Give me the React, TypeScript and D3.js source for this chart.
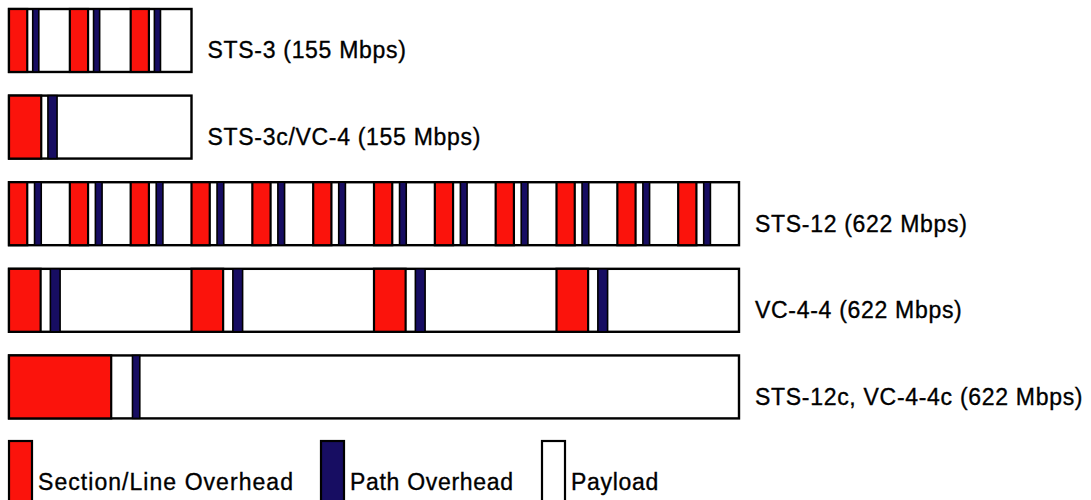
import * as d3 from "d3";

// Frame layouts, measured in STS-1 widths
const rowLabels = [
  "STS-3 (155 Mbps)",
  "STS-3c/VC-4 (155 Mbps)",
  "STS-12 (622 Mbps)",
  "VC-4-4 (622 Mbps)",
  "STS-12c, VC-4-4c (622 Mbps)",
];
const rowUnits = [3, 3, 12, 12, 12];
const rowFrames = [3, 1, 12, 4, 1];
const sectionOH = [0.3, 0.53, 0.3, 0.52, 1.68];
const pathOHStart = [0.39, 0.64, 0.42, 0.68, 2.03];
const pathOHWidth = [0.1, 0.15, 0.11, 0.16, 0.12];

const legendLabels = ["Section/Line Overhead", "Path Overhead", "Payload"];

const RED = "#fb130c";
const NAVY = "#170d62";
const FONT = "'Liberation Sans', Arial, Helvetica, sans-serif";

export default function App() {
  const width = 1091;
  const height = 500;

  const x = d3.scaleLinear().domain([0, 12]).range([9, 739]);
  const y = d3
    .scaleBand<string>()
    .domain(rowLabels)
    .range([9, 418.4])
    .paddingInner(0.273)
    .paddingOuter(0);

  const legendX = [9, 321, 542];
  const legendFill = [RED, NAVY, "#ffffff"];
  const legendSpacing = [1.05, 0.7, 0.7];

  return (
    <svg
      width={width}
      height={height}
      style={{ position: "absolute", left: 0, top: 0, background: "#fff" }}
    >
      {rowLabels.map((label, i) => {
        const top = y(label) || 0;
        const bh = y.bandwidth();
        const frameW = rowUnits[i] / rowFrames[i];
        const frames = d3.range(rowFrames[i]);
        return (
          <g key={label}>
            <rect
              x={x(0)}
              y={top}
              width={x(rowUnits[i]) - x(0)}
              height={bh}
              fill="#fff"
              stroke="#000"
              strokeWidth={2.4}
            />
            {frames.map((f) => {
              const s = f * frameW;
              return (
                <g key={f}>
                  <rect
                    x={x(s)}
                    y={top}
                    width={x(s + sectionOH[i]) - x(s)}
                    height={bh}
                    fill={RED}
                    stroke="#000"
                    strokeWidth={2.2}
                  />
                  <rect
                    x={x(s + pathOHStart[i])}
                    y={top}
                    width={x(s + pathOHStart[i] + pathOHWidth[i]) - x(s + pathOHStart[i])}
                    height={bh}
                    fill={NAVY}
                    stroke="#000"
                    strokeWidth={1.6}
                  />
                </g>
              );
            })}
            <text
              x={x(rowUnits[i]) + 16}
              y={top + bh / 2 + 18}
              fontFamily={FONT}
              fontSize={23}
              letterSpacing={0.7}
              fill="#000"
              stroke="#000"
              strokeWidth={0.35}
            >
              {label}
            </text>
          </g>
        );
      })}

      {legendLabels.map((label, i) => (
        <g key={label}>
          <rect
            x={legendX[i]}
            y={441}
            width={23}
            height={70}
            fill={legendFill[i]}
            stroke="#000"
            strokeWidth={2.2}
          />
          <text
            x={legendX[i] + 29}
            y={490}
            fontFamily={FONT}
            fontSize={23}
            letterSpacing={legendSpacing[i]}
            fill="#000"
            stroke="#000"
            strokeWidth={0.35}
          >
            {label}
          </text>
        </g>
      ))}
    </svg>
  );
}
